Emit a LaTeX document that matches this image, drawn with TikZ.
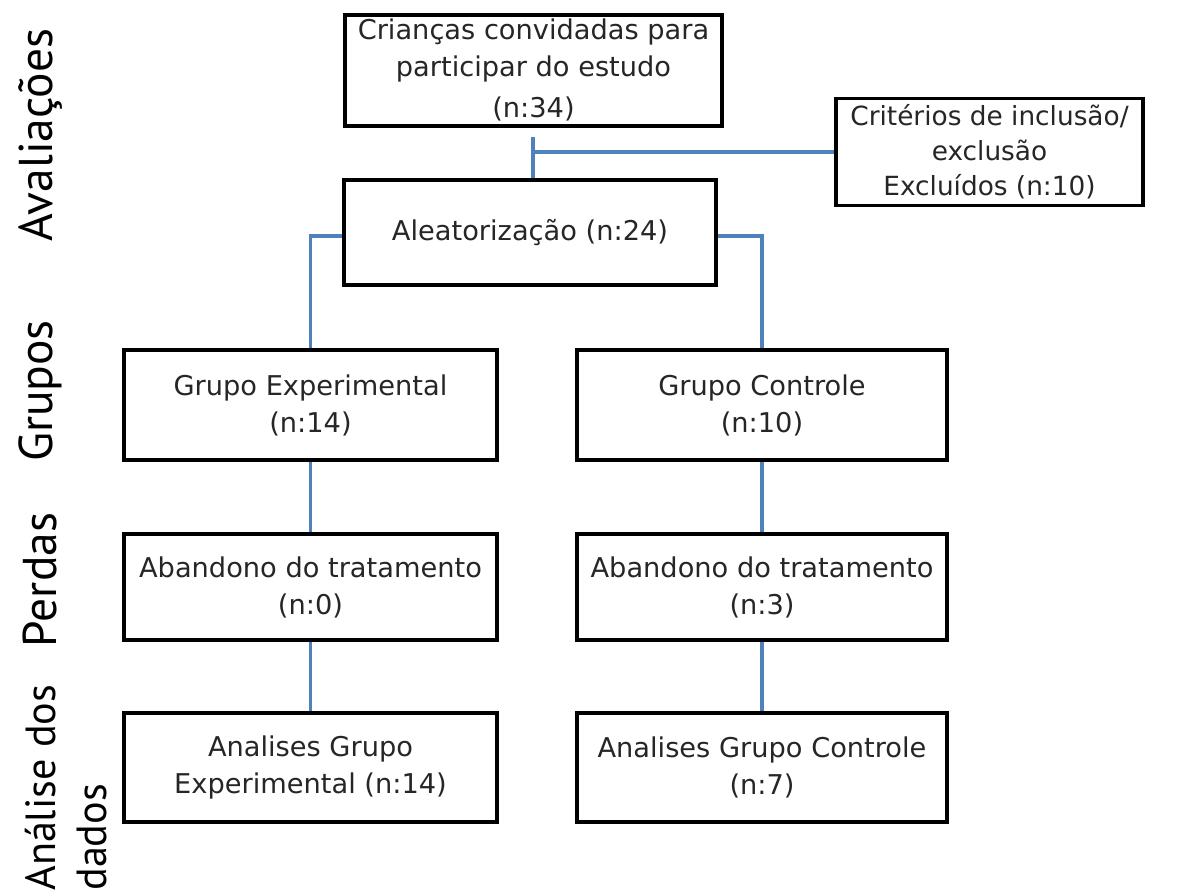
\documentclass[tikz,border=0pt]{standalone}
\usepackage{fontspec}
\setmainfont{DejaVu Sans}
\newfontfamily\sidefont{PT Sans}
\definecolor{linkblue}{HTML}{4F81BD}
\begin{document}
\begin{tikzpicture}[x=0.02cm,y=-0.02cm,
  box/.style={draw=black,line width=2pt,fill=white,inner sep=0pt,align=center,
    font=\fontsize{15.5pt}{21pt}\selectfont,text=black!85},
  txt/.style={align=center,inner sep=0pt,font=\fontsize{15.5pt}{21pt}\selectfont,text=black!85},
  side/.style={rotate=90,inner sep=0pt,font=\sidefont\fontsize{27pt}{30pt}\selectfont},
  link/.style={draw=linkblue,line width=2.2pt}]
\useasboundingbox (0,0) rectangle (1199,895);
\coordinate (jtop) at (533,137);
\coordinate (jmid) at (533,151);
% boxes
\node[box,minimum width=7.54cm,minimum height=2.22cm] (top) at (533.5,70.5) {};
\node[txt] (toptxt) at (533.5,70) {Crianças convidadas para\\participar do estudo\\[2pt](n:34)};
\node[box,minimum width=6.14cm,minimum height=2.14cm,font=\fontsize{15pt}{20pt}\selectfont] (crit) at (989.5,152) {Critérios de inclusão/\\exclusão\\Excluídos (n:10)};
\node[box,minimum width=7.44cm,minimum height=2.1cm] (alea) at (530,232.5) {Aleatorização (n:24)};
\node[box,minimum width=7.46cm,minimum height=2.2cm] (gexp) at (310.5,405) {Grupo Experimental\\(n:14)};
\node[box,minimum width=7.4cm,minimum height=2.2cm] (gctl) at (762,405) {Grupo Controle\\(n:10)};
\node[box,minimum width=7.46cm,minimum height=2.12cm] (ab1) at (310.5,587) {Abandono do tratamento\\(n:0)};
\node[box,minimum width=7.4cm,minimum height=2.12cm] (ab2) at (762,587) {Abandono do tratamento\\(n:3)};
\node[box,minimum width=7.46cm,minimum height=2.18cm] (an1) at (310.5,767.5) {Analises Grupo\\Experimental (n:14)};
\node[box,minimum width=7.4cm,minimum height=2.18cm] (an2) at (762,767.5) {Analises Grupo Controle\\(n:7)};
% links
\draw[link] (crit.west) -- (crit.west -| jmid);
\draw[link] (jtop) -- (jtop |- alea.north);
\draw[link] ([yshift=-3.5*0.02cm]alea.west) -| (gexp.north);
\draw[link] ([yshift=-3.5*0.02cm]alea.east) -| (gctl.north);
\draw[link] (gexp.south) -- (ab1.north);
\draw[link] (ab1.south) -- (an1.north);
\draw[link] (gctl.south) -- (ab2.north);
\draw[link] (ab2.south) -- (an2.north);
% side labels
\node[side] (s1) at (40,135) {Avaliações};
\node[side] (s2) at (40,391) {Grupos};
\node[side] (s3) at (40,580) {Perdas};
\node[side,align=left,anchor=west,font=\sidefont\fontsize{24pt}{29pt}\selectfont] (s4) at (66,891) {Análise dos\\dados};
\end{tikzpicture}
\end{document}
